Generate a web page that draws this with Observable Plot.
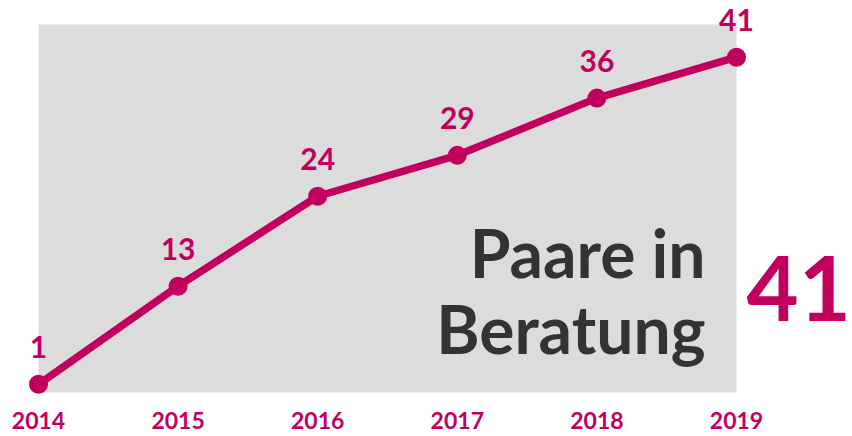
<!DOCTYPE html>
<html>
<head>
<meta charset="utf-8">
<script src="https://cdn.jsdelivr.net/npm/d3@7"></script>
<script src="https://cdn.jsdelivr.net/npm/@observablehq/plot@0.6"></script>
<style>
  html, body { margin: 0; padding: 0; background: #fff; }
  #chart { width: 852px; height: 436px; }
</style>
</head>
<body>
<div id="chart"></div>
<script>
const years = [2014, 2015, 2016, 2017, 2018, 2019];
const couples = [1, 13, 24, 29, 36, 41];
const titleLines = ["Paare in", "Beratung"];

const data = years.map((year, i) => ({year, value: couples[i]}));
const last = data[data.length - 1];

const magenta = "#c1005e";
const font = "Lato, 'Open Sans', sans-serif";

const chart = Plot.plot({
  width: 852,
  height: 436,
  marginLeft: 38,
  marginRight: 116,
  marginTop: 24,
  marginBottom: 44,
  style: {fontFamily: font, background: "#fff", overflow: "visible"},
  x: {type: "linear", domain: [years[0], years[years.length - 1]], axis: null},
  y: {domain: [0, 45], axis: null},
  marks: [
    Plot.frame({fill: "#dcdcdc", stroke: null}),
    Plot.axisX({ticks: years, tickFormat: d => String(d), tickSize: 0, tickPadding: 20, fontSize: 23, fontWeight: 700, fill: magenta, label: null}),
    Plot.text([titleLines[0]], {frameAnchor: "bottom-right", dx: -31, dy: -115, fontSize: 66, fontWeight: 700, fill: "#333", textAnchor: "end", lineAnchor: "bottom"}),
    Plot.text([titleLines[1]], {frameAnchor: "bottom-right", dx: -31, dy: -39, fontSize: 66, fontWeight: 700, fill: "#333", textAnchor: "end", lineAnchor: "bottom"}),
    Plot.line(data, {x: "year", y: "value", stroke: magenta, strokeWidth: 7.5}),
    Plot.dot(data, {x: "year", y: "value", r: 9.5, fill: magenta}),
    Plot.text(data, {x: "year", y: "value", text: d => String(d.value), dy: -26, lineAnchor: "bottom", fontSize: 30, fontWeight: 700, fill: magenta}),
    Plot.text([last], {frameAnchor: "right", text: d => String(d.value), textAnchor: "start", lineAnchor: "middle", dx: 10, dy: 84, fontSize: 90, fontWeight: 700, fill: magenta})
  ]
});
document.getElementById("chart").appendChild(chart);
</script>
</body>
</html>
